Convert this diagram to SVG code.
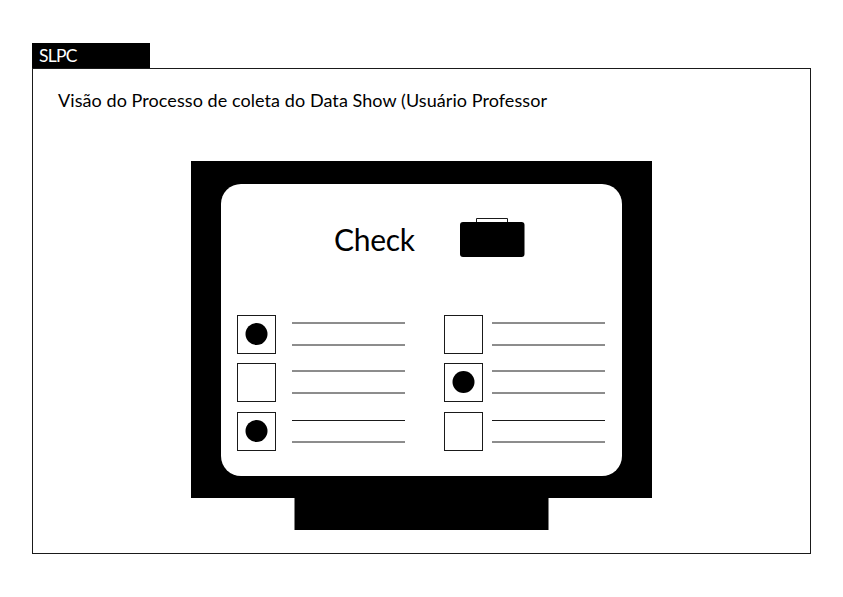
<svg xmlns="http://www.w3.org/2000/svg" width="843" height="597" viewBox="0 0 843 597">
<style>
text{font-family:"Lato","Open Sans","Liberation Sans",sans-serif;fill:#000}
.box{fill:#fff;stroke:#1a1a1a;stroke-width:1}
.ln{stroke:#1a1a1a;stroke-width:1;fill:none}
.b{fill:#000}
</style>
<rect width="843" height="597" fill="#fff"/>
<rect class="box" x="32.500" y="68.500" width="778" height="485"/>
<rect class="b" x="32" y="43" width="118" height="25"/>
<text x="39" y="62" font-size="17.500" textLength="38.500" style="fill:#fff">SLPC</text>
<text x="58" y="107" font-size="18" textLength="489">Visão do Processo de coleta do Data Show (Usuário Professor</text>
<rect class="b" x="191" y="161" width="461" height="337"/>
<rect class="b" x="294.500" y="498" width="254" height="32"/>
<rect x="221" y="184" width="401" height="292" rx="20" fill="#fff"/>
<text x="334" y="251" font-size="30" textLength="81">Check</text>
<path class="ln" d="M476.500 222V218.500H507.500V222" fill="#fff"/>
<rect class="b" x="460" y="222" width="64.500" height="35" rx="3"/>
<g id="opt1"><rect class="box" x="237.500" y="315.500" width="38" height="38"/><circle class="b" cx="256.500" cy="334" r="11"/><path class="ln" d="M292 323H405M292 345H405"/></g>
<g id="opt2"><rect class="box" x="237.500" y="363.500" width="38" height="38"/><path class="ln" d="M292 371H405M292 393H405"/></g>
<g id="opt3"><rect class="box" x="237.500" y="412.500" width="38" height="38"/><circle class="b" cx="256.500" cy="431" r="11"/><path class="ln" d="M292 420.500H405M292 442H405"/></g>
<g id="opt4"><rect class="box" x="444.500" y="315.500" width="38" height="38"/><path class="ln" d="M492 323H605M492 345H605"/></g>
<g id="opt5"><rect class="box" x="444.500" y="363.500" width="38" height="38"/><circle class="b" cx="463.500" cy="382" r="11"/><path class="ln" d="M492 371H605M492 393H605"/></g>
<g id="opt6"><rect class="box" x="444.500" y="412.500" width="38" height="38"/><path class="ln" d="M492 420.500H605M492 442H605"/></g>
</svg>
